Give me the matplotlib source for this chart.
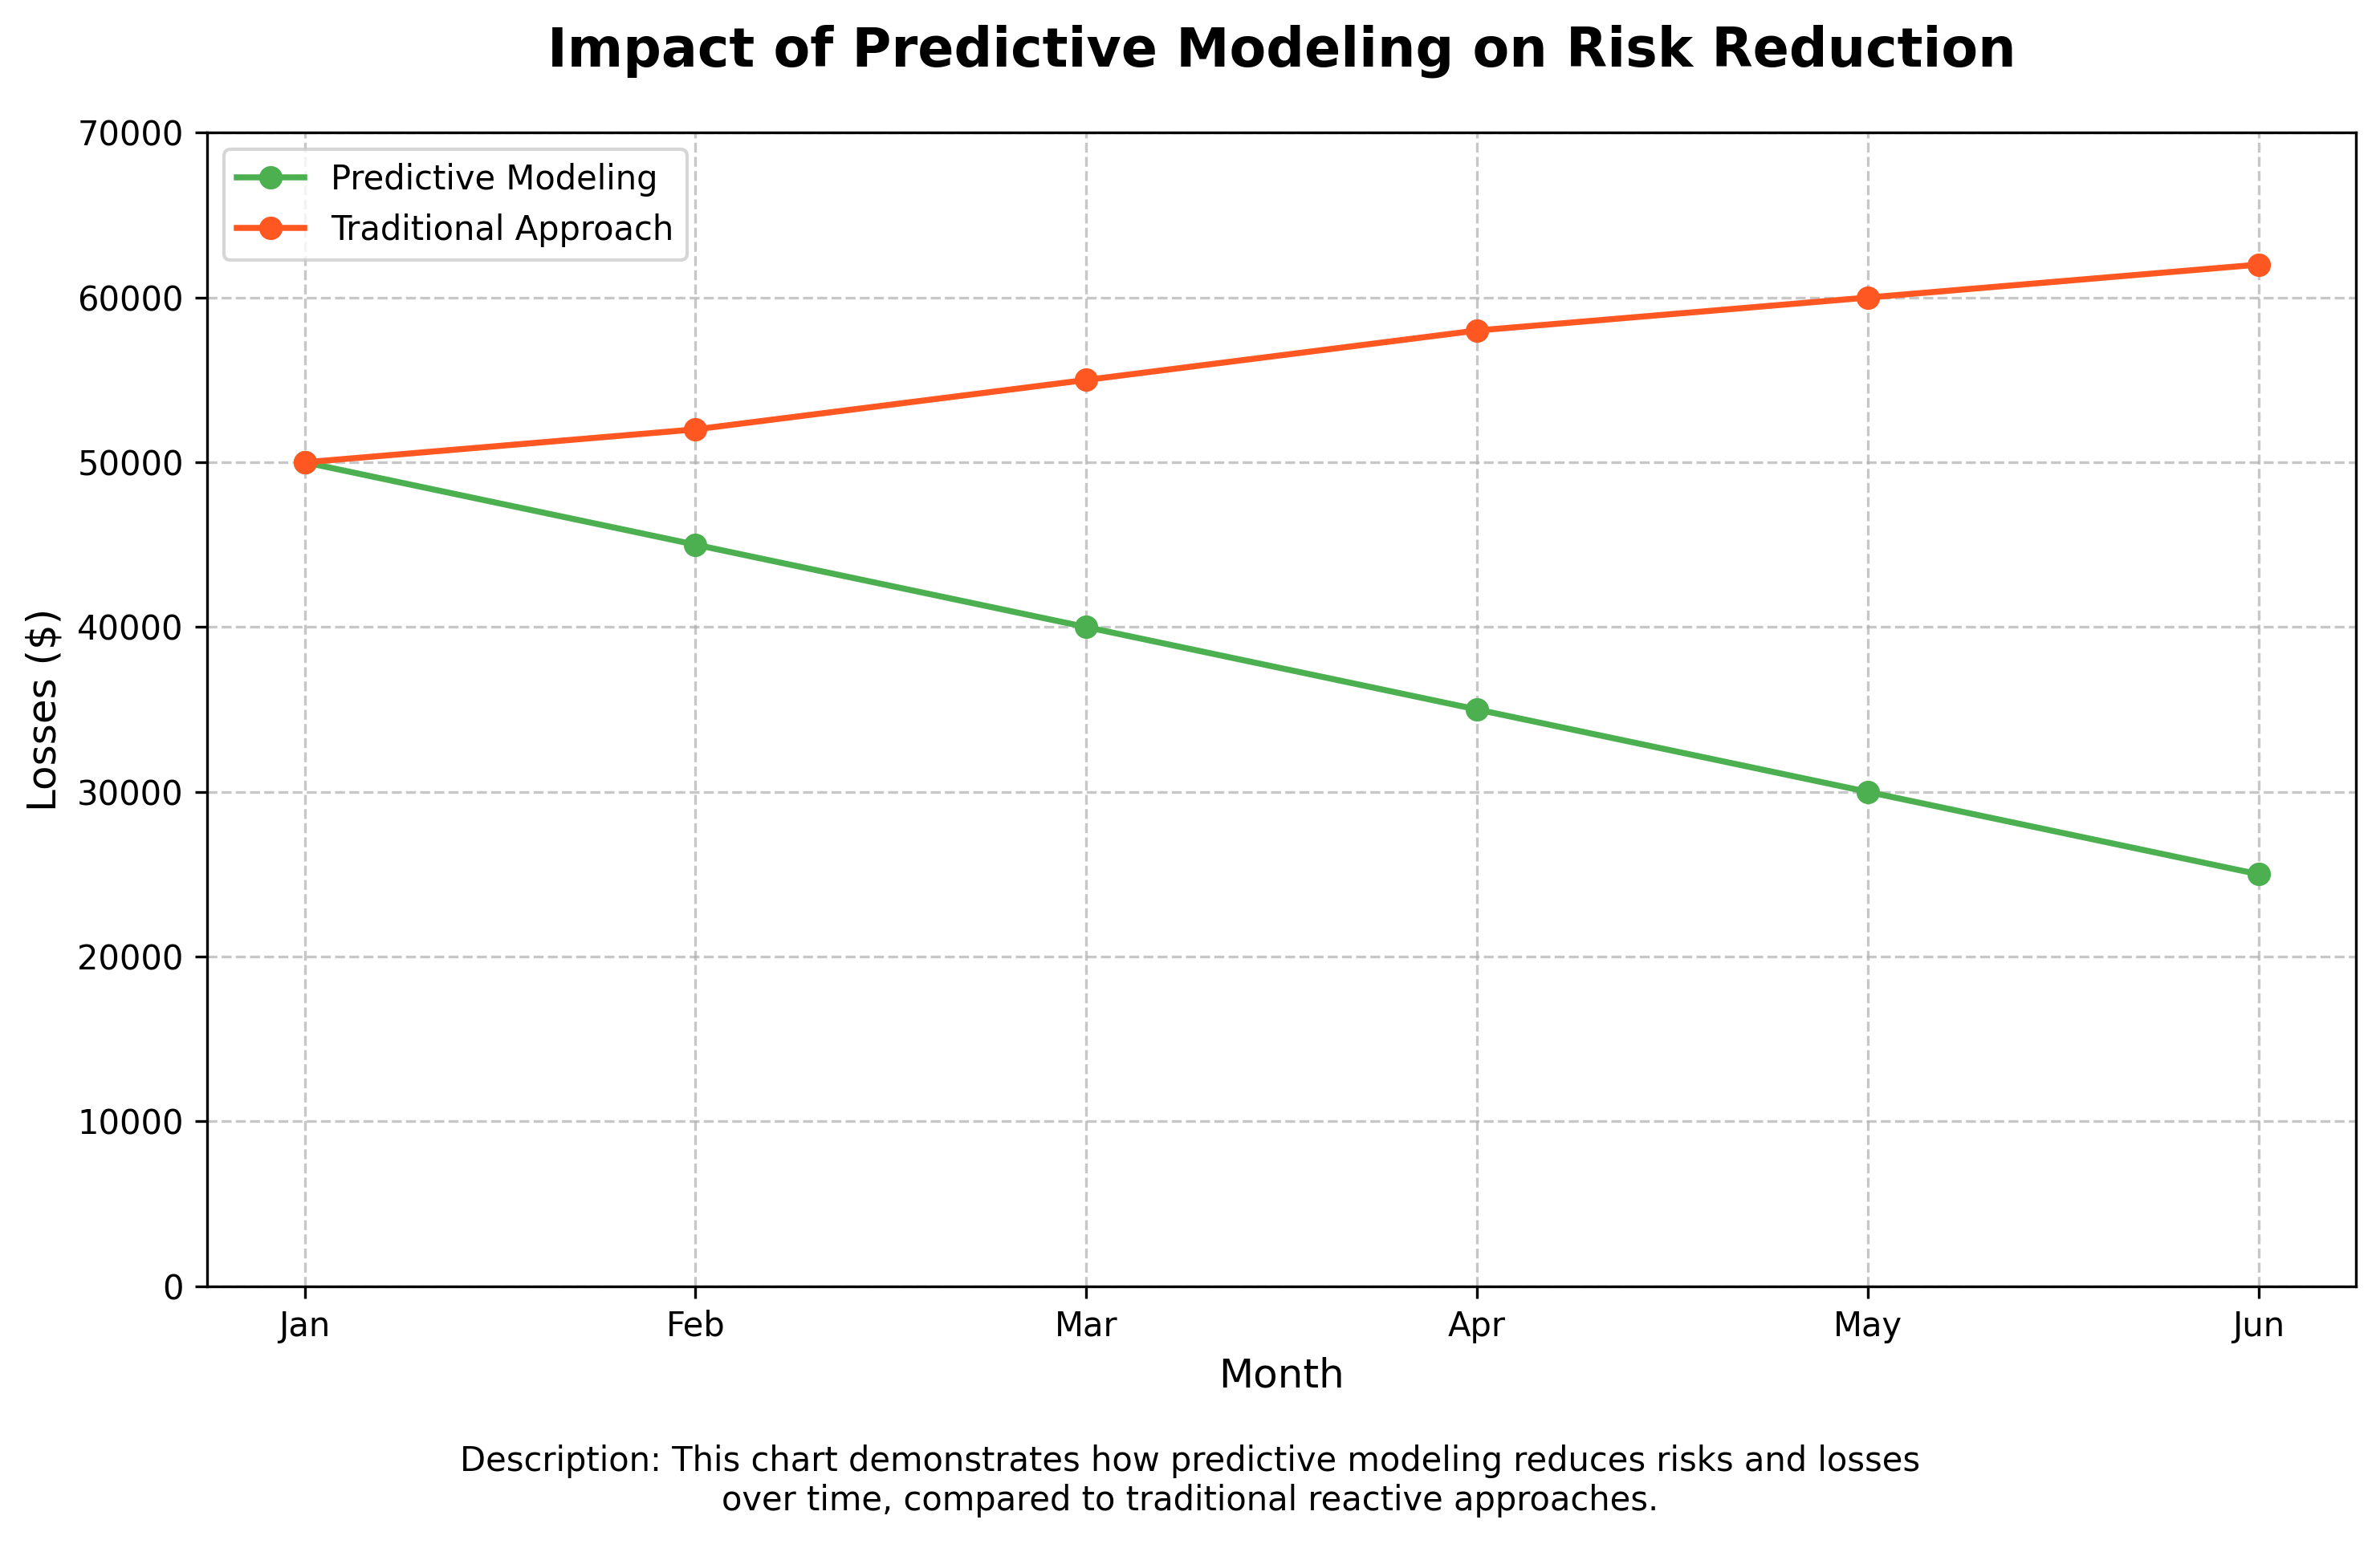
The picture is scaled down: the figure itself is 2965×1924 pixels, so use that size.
import matplotlib
matplotlib.use("Agg")
import matplotlib.pyplot as plt

months = ['Jan', 'Feb', 'Mar', 'Apr', 'May', 'Jun']
predictive = [50000, 45000, 40000, 35000, 30000, 25000]
traditional = [50000, 52000, 55000, 58000, 60000, 62000]

fig, ax = plt.subplots(figsize=(2965/300, 1924/300), dpi=300)
fig.subplots_adjust(left=0.087, right=0.99, top=0.914, bottom=0.167)

ax.plot(months, predictive, marker='o', color='#4CAF50', linewidth=1.8, markersize=6, label='Predictive Modeling')
ax.plot(months, traditional, marker='o', color='#FF5722', linewidth=1.8, markersize=6, label='Traditional Approach')

ax.set_title('Impact of Predictive Modeling on Risk Reduction', fontsize=16, fontweight='bold', pad=20)
ax.set_xlabel('Month', fontsize=12)
ax.set_ylabel('Losses ($)', fontsize=12)
ax.set_ylim(0, 70000)
ax.tick_params(labelsize=10)
ax.grid(True, linestyle='--', alpha=0.7)
ax.legend(loc='upper left', fontsize=10)

fig.text(0.5, 0.022, 'Description: This chart demonstrates how predictive modeling reduces risks and losses\nover time, compared to traditional reactive approaches.',
         ha='center', fontsize=10)

fig.savefig('out.png', dpi=300)
